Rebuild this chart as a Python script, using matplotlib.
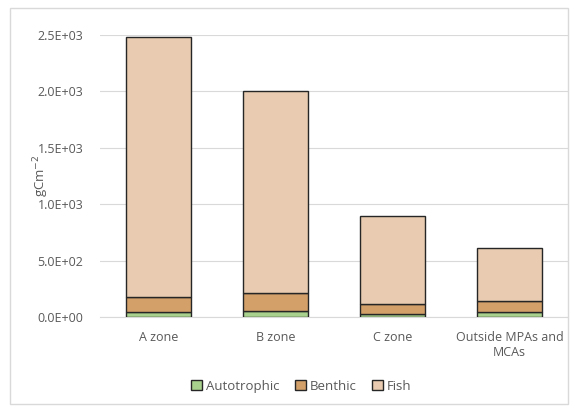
import matplotlib
matplotlib.use("Agg")
import matplotlib.pyplot as plt
from matplotlib.patches import Rectangle
from matplotlib.ticker import FuncFormatter

categories = ["A zone", "B zone", "C zone", "Outside MPAs and\nMCAs"]
autotrophic = [42, 56, 27, 44]
benthic = [133, 159, 85, 94]
fish = [2305, 1790, 783, 474]

series = [("Autotrophic", autotrophic, "#A9D18E"),
          ("Benthic", benthic, "#D4A06A"),
          ("Fish", fish, "#E8CBB0")]

text_col = "#595959"
plt.rcParams['font.family'] = ['Open Sans', 'DejaVu Sans']

fig = plt.figure(figsize=(5.78, 4.12), dpi=100)
ax = fig.add_axes([100 / 578, 1 - 317 / 412, 468 / 578, 282 / 412])

# chart border
fig.patches.append(Rectangle((10 / 578, 8 / 412), 558 / 578, 396 / 412,
                             transform=fig.transFigure, fill=False,
                             edgecolor="#D9D9D9", linewidth=1))

x = range(len(categories))
bottom = [0] * len(categories)
for name, vals, col in series:
    ax.bar(x, vals, width=0.55, bottom=bottom, color=col, edgecolor="#262626",
           linewidth=1, label=name, zorder=3)
    bottom = [b + v for b, v in zip(bottom, vals)]

ax.set_xlim(-0.5, 3.5)
ax.set_ylim(0, 2500)
ax.set_yticks([0, 500, 1000, 1500, 2000, 2500])
ax.yaxis.set_major_formatter(FuncFormatter(
    lambda v, p: "0.0E+00" if v == 0 else f"{v / 1000:.1f}E+03" if v >= 1000 else f"{v / 100:.1f}E+02"))
ax.set_xticks(list(x))
ax.set_xticklabels(categories, fontsize=9, color=text_col)
ax.tick_params(axis='y', labelsize=9, colors=text_col, length=0, pad=12)
ax.tick_params(axis='x', length=0, pad=10)
ax.grid(axis='y', color="#D9D9D9", linewidth=0.8, zorder=0)
for s in ["top", "right", "left"]:
    ax.spines[s].set_visible(False)
ax.spines["bottom"].set_color("#D9D9D9")

ax.set_ylabel("gCm$^{-2}$", fontsize=9.5, color=text_col, labelpad=-10)

ax.legend(loc="lower center", bbox_to_anchor=(0.43, -0.31), ncol=3, frameon=False,
          fontsize=9.5, handlelength=0.8, handleheight=0.8, handletextpad=0.3,
          columnspacing=1.2, labelcolor=text_col)

fig.savefig("out.png", dpi=100)
